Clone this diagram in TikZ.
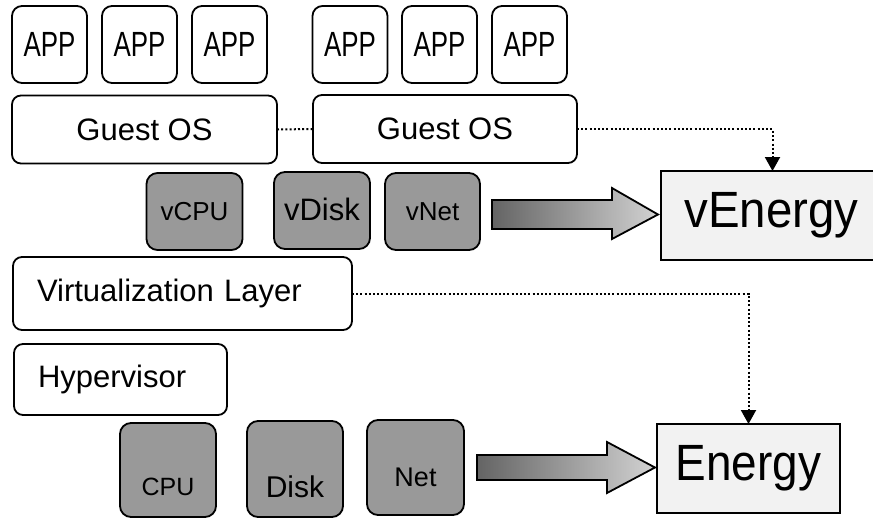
\documentclass[tikz,border=0pt]{standalone}
\usepackage{fontspec}
\setmainfont{Liberation Sans}
\usetikzlibrary{arrows.meta}
\definecolor{boxgray}{RGB}{153,153,153}
\definecolor{energyfill}{RGB}{242,242,242}
\definecolor{arrowdark}{RGB}{100,100,100}
\definecolor{arrowlight}{RGB}{210,210,210}
\newcommand{\fs}[1]{\fontsize{#1}{#1}\selectfont}
\tikzset{
  base/.style={draw=black, line width=1.8pt, inner sep=0pt, outer sep=0pt},
  appbox/.style={base, rounded corners=10pt, fill=white, minimum width=75pt, minimum height=77pt, font=\fs{35}},
  osbox/.style={base, rounded corners=9pt, fill=white, minimum height=68pt, font=\fs{31}},
  layerbox/.style={base, rounded corners=9pt, fill=white, font=\fs{31}, align=left},
  resbox/.style={base, rounded corners=11pt, fill=boxgray, minimum width=96pt},
  energybox/.style={base, fill=energyfill, minimum height=89pt},
  dotline/.style={line width=2pt, dash pattern=on 2pt off 2.2pt},
  dothead/.style={-{Triangle[width=15pt,length=14pt]}},
  bigarrow/.style={draw=black, line width=1.8pt, left color=arrowdark, right color=arrowlight}
}
\begin{document}
\begin{tikzpicture}[x=1pt, y=-1pt]
\useasboundingbox (0,0) rectangle (873,522);
% APPs
\node[appbox] (app1) at (49.5,44.5) {\scalebox{0.74}[1]{APP}};
\node[appbox] (app2) at (139.5,44.5) {\scalebox{0.74}[1]{APP}};
\node[appbox] (app3) at (229.5,44.5) {\scalebox{0.74}[1]{APP}};
\node[appbox] (app4) at (350,44.5) {\scalebox{0.74}[1]{APP}};
\node[appbox] (app5) at (439.5,44.5) {\scalebox{0.74}[1]{APP}};
\node[appbox] (app6) at (529.5,44.5) {\scalebox{0.74}[1]{APP}};
% Guest OS
\node[osbox, minimum width=265pt] (gos1) at (144.5,129.5) {Guest OS};
\node[osbox, minimum width=264pt] (gos2) at (445,129) {Guest OS};
% virtual resources
\node[resbox, minimum height=77pt, font=\fs{26}] (vcpu) at (194.5,211.5) {vCPU};
\node[resbox, minimum height=77pt, font=\fs{31}] (vdisk) at (322,210.5) {\raisebox{3pt}{vDisk}};
\node[resbox, minimum width=95pt, minimum height=77pt, font=\fs{26}] (vnet) at (432.5,211.5) {vNet};
% vEnergy (box runs past the right edge)
\node[energybox, minimum width=215pt, font=\fs{51}] (venergy) at (768.5,215.5) {\hspace*{6pt}\scalebox{0.93}[1]{vEnergy}};
% layers
\node[layerbox, minimum height=73pt, text width=291pt, inner xsep=24pt] (vl) at (182.5,293.5) {Virtualization Layer};
\node[layerbox, minimum height=71pt, text width=165pt, inner xsep=24pt] (hyp) at (120.5,379.5) {Hypervisor};
% physical resources
\node[resbox, minimum height=94pt, label={[font=\fs{25}, yshift=-17pt]center:CPU}] (cpu) at (168,470) {};
\node[resbox, minimum height=96pt, label={[font=\fs{30}, yshift=-18pt]center:Disk}] (disk) at (295,469) {};
\node[resbox, minimum width=97pt, minimum height=95pt, label={[font=\fs{27}, yshift=-10pt]center:Net}] (net) at (415.5,467.5) {};
% Energy
\node[energybox, minimum width=183pt, font=\fs{51}] (energy) at (748.5,468.5) {\scalebox{0.9}[1]{Energy}};
% big arrows
\path[bigarrow] (492,200) -- (612,200) -- (612,188) -- (658,214.5) -- (612,239) -- (612,229) -- (492,229) -- cycle;
\path[bigarrow] (477,455) -- (607,455) -- (607,442) -- (655,467.5) -- (607,493) -- (607,480) -- (477,480) -- cycle;
% dotted connectors
\draw[dotline] (gos1.east) -- (gos2.west);
\draw[dotline, dothead] (gos2.east) -| ([xshift=4pt]venergy.north);
\draw[dotline, dothead] (vl.east) -| (energy.north);
\end{tikzpicture}
\end{document}
